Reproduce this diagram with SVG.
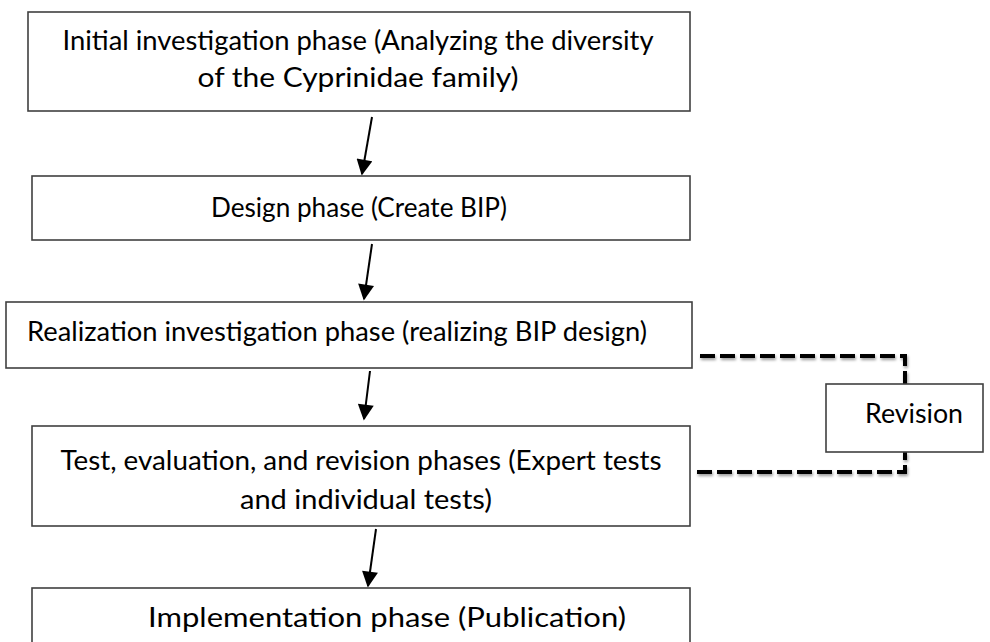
<svg xmlns="http://www.w3.org/2000/svg" width="990" height="642" viewBox="0 0 990 642">
<style>
.box{fill:#fff;stroke:#404040;stroke-width:1.6}
.t{font-family:Lato,"Open Sans","Liberation Sans",sans-serif;font-size:26px;fill:#000;text-anchor:middle}
.arr{stroke:#000;stroke-width:2;fill:none;marker-end:url(#ah)}
.dash{stroke:#000;stroke-width:4;fill:none;stroke-dasharray:15 5}
</style>
<defs>
<marker id="ah" viewBox="0 0 10 10" refX="9" refY="5" markerWidth="8.5" markerHeight="8" orient="auto" markerUnits="strokeWidth">
<path d="M0,0 L10,5 L0,10 z" fill="#000"/>
</marker>
<filter id="sh" x="-10%" y="-50%" width="120%" height="200%">
<feGaussianBlur in="SourceAlpha" stdDeviation="1.5"/>
<feOffset dx="1" dy="2" result="b"/>
<feComponentTransfer><feFuncA type="linear" slope="0.4"/></feComponentTransfer>
<feMerge><feMergeNode/><feMergeNode in="SourceGraphic"/></feMerge>
</filter>
</defs>
<rect width="990" height="642" fill="#fff"/>
<g id="connectors">
<line class="arr" x1="372" y1="117" x2="362" y2="174"/>
<line class="arr" x1="372" y1="244" x2="364" y2="299"/>
<line class="arr" x1="370" y1="371" x2="364" y2="419"/>
<line class="arr" x1="376" y1="529" x2="368" y2="586"/>
<g filter="url(#sh)">
<path class="dash" d="M700,356 H905 V384"/>
<path class="dash" d="M697,472 H905 V452"/>
</g>
</g>
<g id="n1">
<rect class="box" x="28" y="12" width="662" height="99"/>
<text class="t" x="358" y="50" textLength="591" lengthAdjust="spacingAndGlyphs">Initial investigation phase  (Analyzing the diversity</text>
<text class="t" x="358" y="87" textLength="321" lengthAdjust="spacingAndGlyphs">of the Cyprinidae family)</text>
</g>
<g id="n2">
<rect class="box" x="32" y="176" width="658" height="64"/>
<text class="t" x="359" y="217" textLength="296" lengthAdjust="spacingAndGlyphs">Design phase (Create BIP)</text>
</g>
<g id="n3">
<rect class="box" x="6" y="302" width="686" height="66"/>
<text class="t" x="337" y="341" textLength="620" lengthAdjust="spacingAndGlyphs">Realization investigation phase (realizing BIP design)</text>
</g>
<g id="n4">
<rect class="box" x="32" y="426" width="658" height="100"/>
<text class="t" x="361" y="470" textLength="601" lengthAdjust="spacingAndGlyphs">Test, evaluation, and revision phases  (Expert tests</text>
<text class="t" x="366" y="509" textLength="252" lengthAdjust="spacingAndGlyphs">and individual tests)</text>
</g>
<g id="n5">
<rect class="box" x="32" y="588" width="658" height="80"/>
<text class="t" x="387" y="627" textLength="478" lengthAdjust="spacingAndGlyphs">Implementation phase (Publication)</text>
</g>
<g id="revision">
<rect class="box" x="826" y="384" width="157" height="68"/>
<text class="t" x="914" y="423" textLength="98" lengthAdjust="spacingAndGlyphs">Revision</text>
</g>
</svg>
